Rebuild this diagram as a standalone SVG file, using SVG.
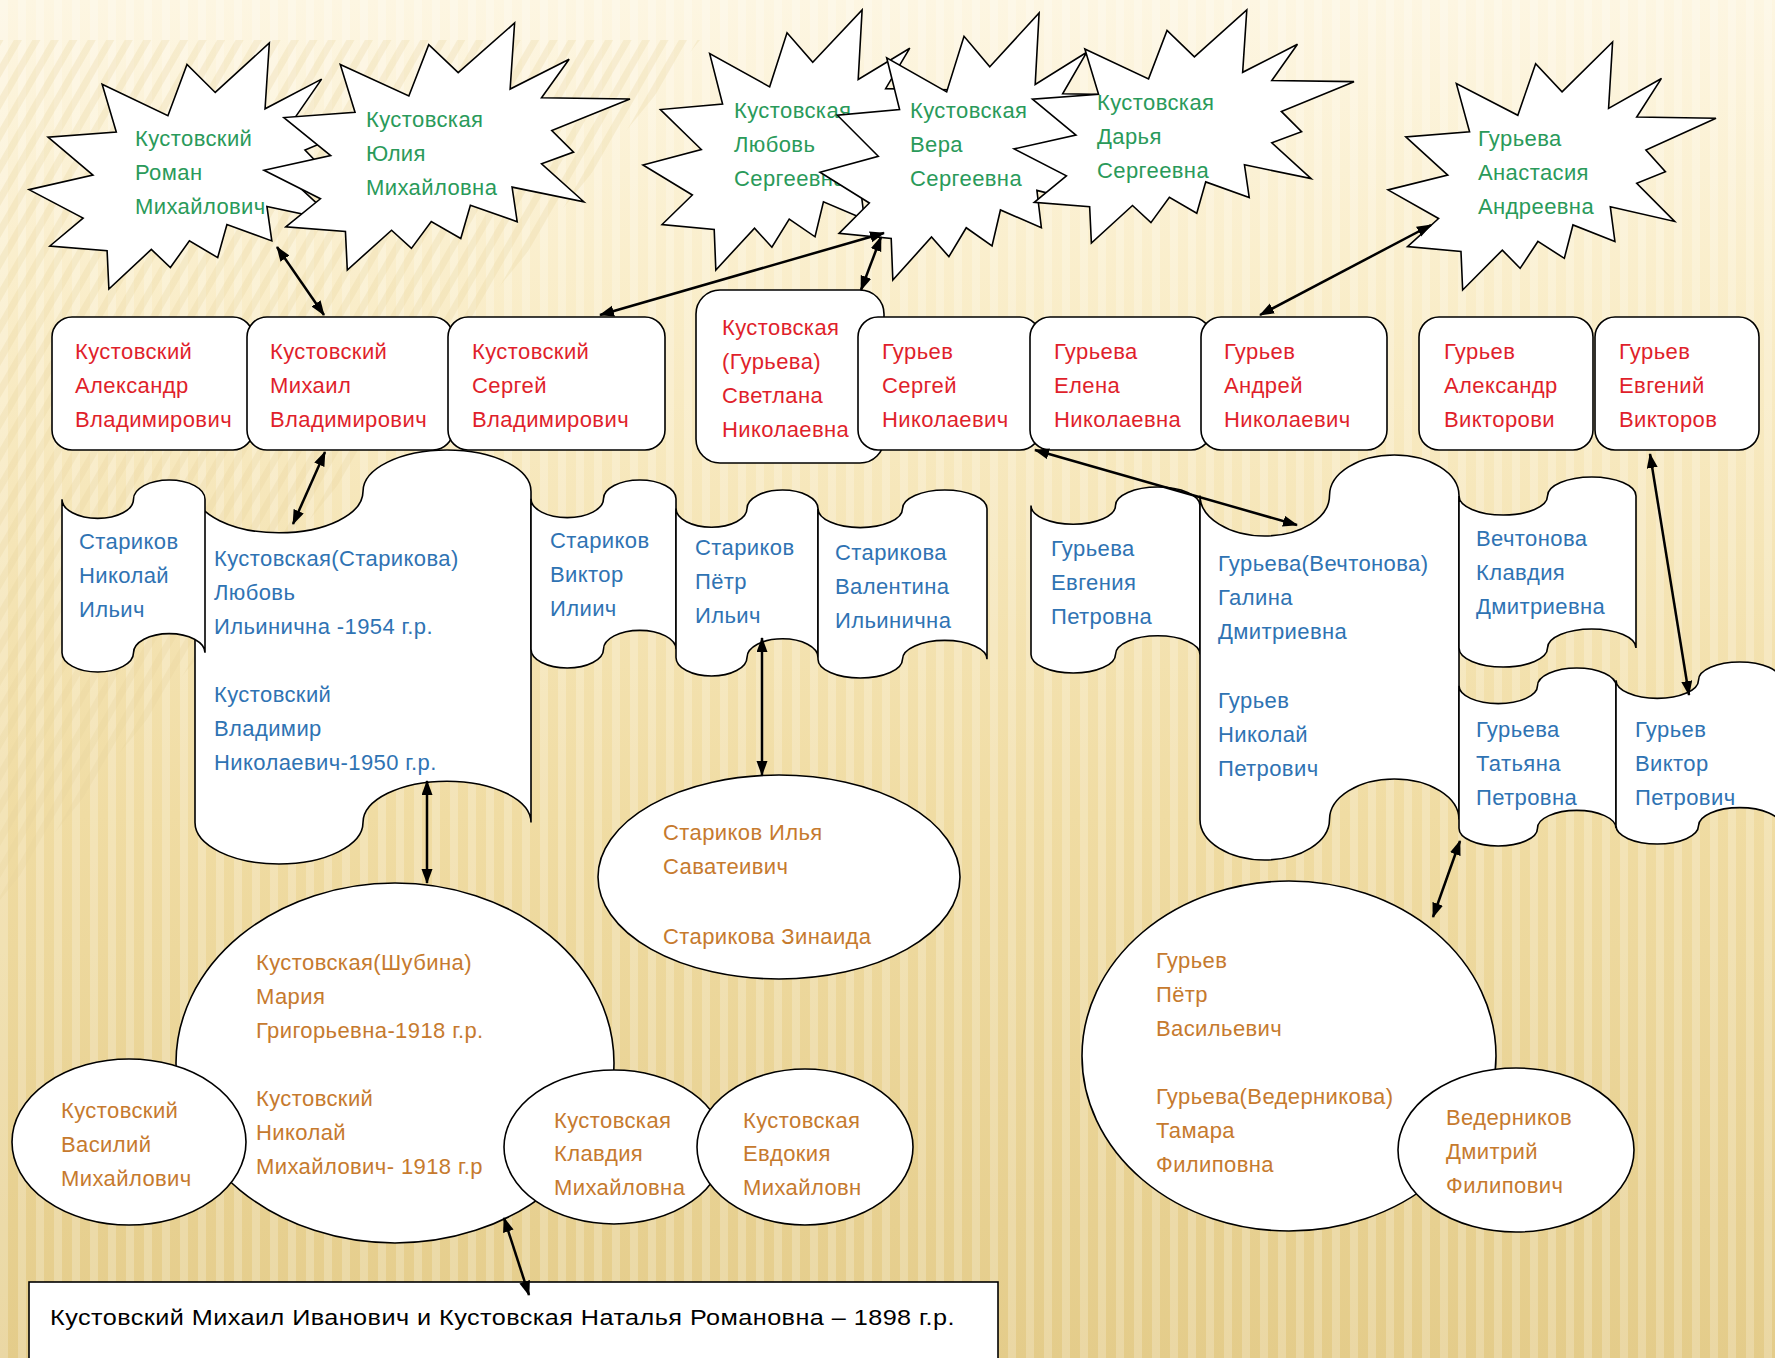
<svg xmlns="http://www.w3.org/2000/svg" xmlns:xlink="http://www.w3.org/1999/xlink" width="1775" height="1358" viewBox="0 0 1775 1358">
<defs>
<linearGradient id="bg" x1="0" y1="0" x2="0" y2="1">
<stop offset="0" stop-color="#fdf6e2"/>
<stop offset="0.25" stop-color="#f9ecc6"/>
<stop offset="0.6" stop-color="#f0dca3"/>
<stop offset="1" stop-color="#e4cc8a"/>
</linearGradient>
<pattern id="stripes" width="18" height="18" patternUnits="userSpaceOnUse">
<rect x="0" y="0" width="8" height="18" fill="#ffffff" opacity="0.22"/>
</pattern>
<pattern id="diag" width="16" height="16" patternUnits="userSpaceOnUse" patternTransform="rotate(30)">
<rect x="0" y="0" width="7" height="16" fill="#e8d49c" opacity="0.45"/>
</pattern>
<polygon id="seal" points="53.06,20.10 68.47,0 67.25,26.75 83.37,14.69 75.83,30.24 100,30.76 78.63,43.53 84.58,52.27 75.83,56.99 87.39,72.37 67.78,66.44 69.18,80.44 56.39,73.77 53.76,87.23 45.70,80.42 40.28,91.26 34.85,83.91 22.76,100 22.25,84.44 5.95,82.52 15.42,71.16 0,59.62 18.22,53.67 5.43,38.29 24.87,36.19 20.84,16.78 39.58,29.55 45.01,8.74" vector-effect="non-scaling-stroke"/>
<marker id="ah" markerUnits="userSpaceOnUse" markerWidth="16" markerHeight="12" refX="14" refY="5.5" orient="auto-start-reverse">
<path d="M0,0 L15,5.5 L0,11 z" fill="#000"/>
</marker>
</defs>
<style>
.shape{fill:#fff;stroke:#000;stroke-width:1.6}
.t{font-family:"Liberation Sans",Arial,sans-serif;font-size:22px;letter-spacing:0.4px}
.g{fill:#2a9a5a}
.r{fill:#e01f2b}
.b{fill:#2f73b3}
.o{fill:#c67a2e}
.k{fill:#000}
</style>

<rect x="0" y="0" width="1775" height="1358" fill="url(#bg)"/>
<rect x="0" y="0" width="1775" height="1358" fill="url(#stripes)"/>
<polygon points="0,40 700,40 0,900" fill="url(#diag)" opacity="0.6"/>

<!-- Stars -->
<g id="n-roman"><use href="#seal" class="shape" transform="translate(29,43) scale(3.51,2.46)"/>
<text class="t g"><tspan x="135" y="146">Кустовский</tspan><tspan x="135" y="180">Роман</tspan><tspan x="135" y="214">Михайлович</tspan></text></g>
<g id="n-yulia"><use href="#seal" class="shape" transform="translate(264,23) scale(3.66,2.47)"/>
<text class="t g"><tspan x="366" y="127">Кустовская</tspan><tspan x="366" y="161">Юлия</tspan><tspan x="366" y="195">Михайловна</tspan></text></g>
<g id="n-lyubov"><use href="#seal" class="shape" transform="translate(643,10) scale(3.20,2.60)"/>
<text class="t g"><tspan x="734" y="118">Кустовская</tspan><tspan x="734" y="152">Любовь</tspan><tspan x="734" y="186">Сергеевна</tspan></text></g>
<g id="n-vera"><use href="#seal" class="shape" transform="translate(820,13) scale(3.20,2.67)"/>
<text class="t g"><tspan x="910" y="118">Кустовская</tspan><tspan x="910" y="152">Вера</tspan><tspan x="910" y="186">Сергеевна</tspan></text></g>
<g id="n-darya"><use href="#seal" class="shape" transform="translate(1014,10) scale(3.40,2.33)"/>
<text class="t g"><tspan x="1097" y="110">Кустовская</tspan><tspan x="1097" y="144">Дарья</tspan><tspan x="1097" y="178">Сергеевна</tspan></text></g>
<g id="n-anastasia"><use href="#seal" class="shape" transform="translate(1388,42) scale(3.28,2.48)"/>
<text class="t g"><tspan x="1478" y="146">Гурьева</tspan><tspan x="1478" y="180">Анастасия</tspan><tspan x="1478" y="214">Андреевна</tspan></text></g>

<!-- Rounded boxes -->
<g id="n-aleksandr"><rect class="shape" x="52" y="317" width="201" height="133" rx="20"/>
<text class="t r"><tspan x="75" y="359">Кустовский</tspan><tspan x="75" y="393">Александр</tspan><tspan x="75" y="427">Владимирович</tspan></text></g>
<g id="n-mikhail"><rect class="shape" x="247" y="317" width="206" height="133" rx="20"/>
<text class="t r"><tspan x="270" y="359">Кустовский</tspan><tspan x="270" y="393">Михаил</tspan><tspan x="270" y="427">Владимирович</tspan></text></g>
<g id="n-sergey"><rect class="shape" x="448" y="317" width="217" height="133" rx="20"/>
<text class="t r"><tspan x="472" y="359">Кустовский</tspan><tspan x="472" y="393">Сергей</tspan><tspan x="472" y="427">Владимирович</tspan></text></g>
<g id="n-svetlana"><rect class="shape" x="696" y="290" width="188" height="173" rx="24"/>
<text class="t r"><tspan x="722" y="335">Кустовская</tspan><tspan x="722" y="369">(Гурьева)</tspan><tspan x="722" y="403">Светлана</tspan><tspan x="722" y="437">Николаевна</tspan></text></g>
<g id="n-sergey-g"><rect class="shape" x="858" y="317" width="182" height="133" rx="20"/>
<text class="t r"><tspan x="882" y="359">Гурьев</tspan><tspan x="882" y="393">Сергей</tspan><tspan x="882" y="427">Николаевич</tspan></text></g>
<g id="n-elena"><rect class="shape" x="1030" y="317" width="181" height="133" rx="20"/>
<text class="t r"><tspan x="1054" y="359">Гурьева</tspan><tspan x="1054" y="393">Елена</tspan><tspan x="1054" y="427">Николаевна</tspan></text></g>
<g id="n-andrey"><rect class="shape" x="1201" y="317" width="186" height="133" rx="20"/>
<text class="t r"><tspan x="1224" y="359">Гурьев</tspan><tspan x="1224" y="393">Андрей</tspan><tspan x="1224" y="427">Николаевич</tspan></text></g>
<g id="n-aleksandr-g"><rect class="shape" x="1419" y="317" width="174" height="133" rx="20"/>
<text class="t r"><tspan x="1444" y="359">Гурьев</tspan><tspan x="1444" y="393">Александр</tspan><tspan x="1444" y="427">Викторови</tspan></text></g>
<g id="n-evgeniy"><rect class="shape" x="1595" y="317" width="164" height="133" rx="20"/>
<text class="t r"><tspan x="1619" y="359">Гурьев</tspan><tspan x="1619" y="393">Евгений</tspan><tspan x="1619" y="427">Викторов</tspan></text></g>

<!-- Tapes -->
<g id="n-lyubov-starikova"><path class="shape" d="M195,491.4 A84,41.4 0 0 0 363,491.4 A84,41.4 0 0 1 531,491.4 L531,822.6 A84,41.4 0 0 0 363,822.6 A84,41.4 0 0 1 195,822.6 Z"/>
<text class="t b"><tspan x="214" y="566">Кустовская(Старикова)</tspan><tspan x="214" y="600">Любовь</tspan><tspan x="214" y="634">Ильинична -1954 г.р.</tspan><tspan x="214" y="702">Кустовский</tspan><tspan x="214" y="736">Владимир</tspan><tspan x="214" y="770">Николаевич-1950 г.р.</tspan></text></g>
<g id="n-nikolay-s"><path class="shape" d="M62,499.2 A35.75,19.2 0 0 0 133.5,499.2 A35.75,19.2 0 0 1 205,499.2 L205,652.8 A35.75,19.2 0 0 0 133.5,652.8 A35.75,19.2 0 0 1 62,652.8 Z"/>
<text class="t b"><tspan x="79" y="549">Стариков</tspan><tspan x="79" y="583">Николай</tspan><tspan x="79" y="617">Ильич</tspan></text></g>
<g id="n-viktor-s"><path class="shape" d="M531,498.8 A36.25,18.8 0 0 0 603.5,498.8 A36.25,18.8 0 0 1 676,498.8 L676,649.2 A36.25,18.8 0 0 0 603.5,649.2 A36.25,18.8 0 0 1 531,649.2 Z"/>
<text class="t b"><tspan x="550" y="548">Стариков</tspan><tspan x="550" y="582">Виктор</tspan><tspan x="550" y="616">Илиич</tspan></text></g>
<g id="n-petr-s"><path class="shape" d="M676,508.6 A35.5,18.6 0 0 0 747,508.6 A35.5,18.6 0 0 1 818,508.6 L818,657.4 A35.5,18.6 0 0 0 747,657.4 A35.5,18.6 0 0 1 676,657.4 Z"/>
<text class="t b"><tspan x="695" y="555">Стариков</tspan><tspan x="695" y="589">Пётр</tspan><tspan x="695" y="623">Ильич</tspan></text></g>
<g id="n-valentina"><path class="shape" d="M818,508.8 A42.25,18.8 0 0 0 902.5,508.8 A42.25,18.8 0 0 1 987,508.8 L987,659.2 A42.25,18.8 0 0 0 902.5,659.2 A42.25,18.8 0 0 1 818,659.2 Z"/>
<text class="t b"><tspan x="835" y="560">Старикова</tspan><tspan x="835" y="594">Валентина</tspan><tspan x="835" y="628">Ильинична</tspan></text></g>
<g id="n-evgeniya"><path class="shape" d="M1031,505.6 A42.25,18.6 0 0 0 1115.5,505.6 A42.25,18.6 0 0 1 1200,505.6 L1200,654.4 A42.25,18.6 0 0 0 1115.5,654.4 A42.25,18.6 0 0 1 1031,654.4 Z"/>
<text class="t b"><tspan x="1051" y="556">Гурьева</tspan><tspan x="1051" y="590">Евгения</tspan><tspan x="1051" y="624">Петровна</tspan></text></g>
<g id="n-galina"><path class="shape" d="M1200,495.5 A64.75,40.5 0 0 0 1329.5,495.5 A64.75,40.5 0 0 1 1459,495.5 L1459,819.5 A64.75,40.5 0 0 0 1329.5,819.5 A64.75,40.5 0 0 1 1200,819.5 Z"/>
<text class="t b"><tspan x="1218" y="571">Гурьева(Вечтонова)</tspan><tspan x="1218" y="605">Галина</tspan><tspan x="1218" y="639">Дмитриевна</tspan><tspan x="1218" y="708">Гурьев</tspan><tspan x="1218" y="742">Николай</tspan><tspan x="1218" y="776">Петрович</tspan></text></g>
<g id="n-klavdiya-v"><path class="shape" d="M1459,496 A44.25,19 0 0 0 1547.5,496 A44.25,19 0 0 1 1636,496 L1636,648 A44.25,19 0 0 0 1547.5,648 A44.25,19 0 0 1 1459,648 Z"/>
<text class="t b"><tspan x="1476" y="546">Вечтонова</tspan><tspan x="1476" y="580">Клавдия</tspan><tspan x="1476" y="614">Дмитриевна</tspan></text></g>
<g id="n-tatyana"><path class="shape" d="M1459,685.8 A39.25,17.8 0 0 0 1537.5,685.8 A39.25,17.8 0 0 1 1616,685.8 L1616,828.2 A39.25,17.8 0 0 0 1537.5,828.2 A39.25,17.8 0 0 1 1459,828.2 Z"/>
<text class="t b"><tspan x="1476" y="737">Гурьева</tspan><tspan x="1476" y="771">Татьяна</tspan><tspan x="1476" y="805">Петровна</tspan></text></g>
<g id="n-viktor-g"><path class="shape" d="M1616,680.2 A41.25,18.2 0 0 0 1698.5,680.2 A41.25,18.2 0 0 1 1781,680.2 L1781,825.8 A41.25,18.2 0 0 0 1698.5,825.8 A41.25,18.2 0 0 1 1616,825.8 Z"/>
<text class="t b"><tspan x="1635" y="737">Гурьев</tspan><tspan x="1635" y="771">Виктор</tspan><tspan x="1635" y="805">Петрович</tspan></text></g>

<!-- Ellipses -->
<g id="n-ilya"><ellipse class="shape" cx="779" cy="877" rx="181" ry="102"/>
<text class="t o"><tspan x="663" y="840">Стариков Илья</tspan><tspan x="663" y="874">Саватеивич</tspan><tspan x="663" y="944">Старикова Зинаида</tspan></text></g>
<g id="n-maria"><ellipse class="shape" cx="395" cy="1063" rx="219" ry="180"/>
<text class="t o"><tspan x="256" y="970">Кустовская(Шубина)</tspan><tspan x="256" y="1004">Мария</tspan><tspan x="256" y="1038">Григорьевна-1918 г.р.</tspan><tspan x="256" y="1106">Кустовский</tspan><tspan x="256" y="1140">Николай</tspan><tspan x="256" y="1174">Михайлович- 1918 г.р</tspan></text></g>
<g id="n-vasiliy"><ellipse class="shape" cx="129" cy="1142" rx="117" ry="83"/>
<text class="t o"><tspan x="61" y="1118">Кустовский</tspan><tspan x="61" y="1152">Василий</tspan><tspan x="61" y="1186">Михайлович</tspan></text></g>
<g id="n-klavdiya-k"><ellipse class="shape" cx="614" cy="1147" rx="110" ry="77"/>
<text class="t o"><tspan x="554" y="1128">Кустовская</tspan><tspan x="554" y="1161">Клавдия</tspan><tspan x="554" y="1195">Михайловна</tspan></text></g>
<g id="n-evdokiya"><ellipse class="shape" cx="805" cy="1147" rx="108" ry="78"/>
<text class="t o"><tspan x="743" y="1128">Кустовская</tspan><tspan x="743" y="1161">Евдокия</tspan><tspan x="743" y="1195">Михайловн</tspan></text></g>
<g id="n-petr-g"><ellipse class="shape" cx="1289" cy="1056" rx="207" ry="175"/>
<text class="t o"><tspan x="1156" y="968">Гурьев</tspan><tspan x="1156" y="1002">Пётр</tspan><tspan x="1156" y="1036">Васильевич</tspan><tspan x="1156" y="1104">Гурьева(Ведерникова)</tspan><tspan x="1156" y="1138">Тамара</tspan><tspan x="1156" y="1172">Филиповна</tspan></text></g>
<g id="n-dmitriy"><ellipse class="shape" cx="1516" cy="1150" rx="118" ry="82"/>
<text class="t o"><tspan x="1446" y="1125">Ведерников</tspan><tspan x="1446" y="1159">Дмитрий</tspan><tspan x="1446" y="1193">Филипович</tspan></text></g>

<!-- Bottom box -->
<g id="n-root"><rect class="shape" x="29" y="1282" width="969" height="100"/>
<text class="t k" x="50" y="1325" textLength="905" lengthAdjust="spacingAndGlyphs">Кустовский Михаил Иванович  и  Кустовская Наталья Романовна – 1898 г.р.</text></g>

<!-- Connectors -->
<g id="connectors" stroke="#000" stroke-width="2.5" fill="none" marker-start="url(#ah)" marker-end="url(#ah)">
<line x1="277" y1="247" x2="324" y2="315"/>
<line x1="884" y1="233" x2="600" y2="315"/>
<line x1="881" y1="237" x2="861" y2="290"/>
<line x1="1431" y1="225" x2="1260" y2="315"/>
<line x1="325" y1="452" x2="293" y2="524"/>
<line x1="1035" y1="450" x2="1297" y2="525"/>
<line x1="1650" y1="454" x2="1689" y2="695"/>
<line x1="762" y1="638" x2="762" y2="775"/>
<line x1="427" y1="781" x2="427" y2="883"/>
<line x1="1460" y1="841" x2="1433" y2="917"/>
<line x1="504" y1="1218" x2="529" y2="1295"/>
</g>
</svg>
